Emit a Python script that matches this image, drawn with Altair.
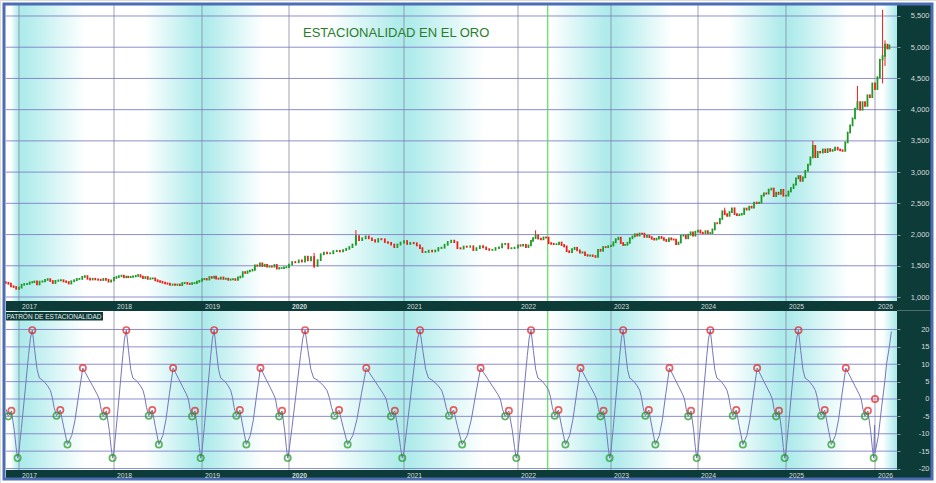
import altair as alt
import pandas as pd

FONT = "Liberation Sans"

# ---------------- data ----------------
title_text = "ESTACIONALIDAD EN EL ORO"
panel_label = "PATRÓN DE ESTACIONALIDAD"

years = [2017, 2018, 2019, 2020, 2021, 2022, 2023, 2024, 2025, 2026]
price_ticks = [1000, 1500, 2000, 2500, 3000, 3500, 4000, 4500, 5000, 5500]
season_ticks = [-20, -15, -10, -5, 0, 5, 10, 15, 20]

# gold closes sampled on the 1st, 11th and 21st of each month, first one 2016-11-11
first_price_date = "2016-11-11"
first_open = 1236
closes_2016 = [1228, 1212, 1172, 1160, 1132]
closes_2017 = [1150, 1196, 1208, 1210, 1234, 1238, 1248, 1202, 1246, 1250, 1274, 1286,
               1256, 1224, 1258, 1266, 1268, 1250, 1240, 1216, 1252, 1268, 1288, 1290,
               1322, 1334, 1292, 1280, 1292, 1282, 1276, 1272, 1290, 1276, 1246, 1266]
closes_2018 = [1306, 1320, 1334, 1342, 1316, 1326, 1318, 1322, 1330, 1338, 1350, 1326,
               1304, 1320, 1290, 1298, 1298, 1268, 1252, 1244, 1230, 1218, 1212, 1196,
               1200, 1194, 1200, 1190, 1222, 1226, 1214, 1208, 1222, 1224, 1244, 1258]
closes_2019 = [1284, 1290, 1280, 1320, 1308, 1326, 1296, 1292, 1312, 1290, 1294, 1276,
               1282, 1286, 1274, 1312, 1326, 1398, 1386, 1410, 1424, 1436, 1506, 1500,
               1538, 1496, 1516, 1486, 1488, 1486, 1512, 1456, 1464, 1464, 1474, 1478]
closes_2020 = [1520, 1560, 1556, 1586, 1568, 1646, 1588, 1640, 1498, 1590, 1684, 1710,
               1700, 1700, 1734, 1740, 1730, 1752, 1772, 1800, 1840, 1976, 1912, 1940,
               1970, 1940, 1910, 1886, 1928, 1924, 1880, 1866, 1840, 1800, 1840, 1872]
closes_2021 = [1896, 1850, 1866, 1860, 1826, 1782, 1720, 1722, 1742, 1730, 1744, 1784,
               1790, 1836, 1880, 1902, 1878, 1782, 1776, 1808, 1804, 1812, 1752, 1782,
               1814, 1794, 1766, 1754, 1756, 1784, 1794, 1848, 1850, 1780, 1782, 1790]
closes_2022 = [1828, 1822, 1836, 1800, 1826, 1900, 1944, 1988, 1936, 1924, 1954, 1950,
               1862, 1852, 1846, 1846, 1872, 1832, 1810, 1734, 1718, 1768, 1788, 1748,
               1710, 1716, 1672, 1662, 1666, 1656, 1642, 1756, 1740, 1800, 1798, 1814]
closes_2023 = [1824, 1876, 1926, 1950, 1864, 1834, 1836, 1868, 1940, 1970, 2004, 1984,
               2016, 2014, 1962, 1978, 1958, 1932, 1920, 1934, 1962, 1944, 1914, 1896,
               1940, 1922, 1920, 1848, 1872, 1982, 1984, 1940, 1998, 2036, 1982, 2046]
closes_2024 = [2064, 2030, 2022, 2054, 2024, 2024, 2082, 2182, 2180, 2250, 2372, 2326,
               2300, 2360, 2420, 2328, 2310, 2320, 2330, 2416, 2400, 2446, 2432, 2512,
               2502, 2512, 2622, 2660, 2656, 2720, 2736, 2616, 2670, 2650, 2716, 2622]
closes_2025 = [2624, 2690, 2744, 2800, 2900, 2936, 2860, 2916, 3020, 3120, 3236, 3420,
               3240, 3324, 3314, 3362, 3320, 3368, 3340, 3354, 3390, 3362, 3350, 3340,
               3476, 3634, 3748, 3860, 4016, 4120, 4000, 4120, 4060, 4230, 4200, 4420]
closes_2026 = [4330, 4520, 4800, 4860, 5040, 4980, 5030]

# visible wicks (date, high, low)
wick_dates = ["2020-03-21", "2020-08-01", "2022-03-11", "2024-04-21", "2025-04-21",
              "2025-10-21", "2026-02-01", "2026-02-11"]
wick_highs = [1704, 2072, 2068, 2430, 3500, 4380, 5600, 5110]
wick_lows = [1460, 1840, 1936, 2326, 3236, 4016, 4420, 4700]

# seasonal pattern (one year): fraction of year, value, marker
pattern_frac = [0.0, 0.025, 0.065, 0.10, 0.12, 0.14, 0.165, 0.19, 0.215, 0.245, 0.27, 0.30,
                0.33, 0.35, 0.37, 0.395, 0.435, 0.47, 0.51, 0.555, 0.59, 0.63, 0.672, 0.70,
                0.73, 0.78, 0.82, 0.845, 0.865, 0.887, 0.92, 0.95, 0.97, 0.985]
pattern_val = [-15, -8.5, 2.6, 12.5, 17.5, 19.8, 14, 8.5, 6.0, 5.5, 4.8, 3.8,
               2.5, 0.5, -2.5, -4.8, -3.2, -8, -13.1, -10.5, -6, 1.5, 8.9, 7.5,
               6, 3.5, 1.5, 0, -3, -5, -3.4, -9, -14, -17]
pattern_mark = ["", "", "", "", "", "max", "", "", "", "", "", "",
                "", "", "", "min", "max", "", "min", "", "", "", "max", "",
                "", "", "", "", "", "min", "max", "", "", "min"]
pattern_years = [2016, 2017, 2018, 2019, 2020, 2021, 2022, 2023, 2024, 2025]

# last stretch of the pattern (2026)
tail_x = [2025.995, 2026.0, 2026.037, 2026.075, 2026.112, 2026.131, 2026.161, 2026.184]
tail_val = [-7.5, -15.5, -10.8, -2.2, 5.5, 10.3, 15, 19.4]
current_x = [2026.0]
current_val = [0]

cursor_x = [2022.32]

# ---------------- colours ----------------
CYAN = "#b0ebeb"
WHITE = "#ffffff"
DARK = "#0d3b38"
GRID_H = "#7a7ac8"
GRID_V = "#7f7f99"
UP = "#1e9a25"
DOWN = "#ec2016"
LBL = "#d5dcdc"

# ---------------- scales ----------------
X_DOMAIN = [2016.863, 2017, 2018, 2019, 2020, 2021, 2022, 2023, 2024, 2025, 2026, 2026.247]
X_RANGE = [6, 19, 114, 202, 289, 404, 518, 611, 698, 786, 875, 897]
xscale = alt.Scale(domain=X_DOMAIN, range=X_RANGE, zero=False, nice=False)
yscale_top = alt.Scale(domain=[936, 5676], range=[301, 5], zero=False, nice=False)
yscale_bot = alt.Scale(domain=[-20.43, 25.32], range=[470, 311], zero=False, nice=False)

bold2020 = {"condition": {"test": "datum.value == 2020", "value": "bold"}, "value": "normal"}
x_axis_kw = dict(values=years, labelExpr="'' + datum.value", labelAlign="left", labelOffset=2.5,
                 labelPadding=2, labelBaseline="top", labelFontSize=6.8, labelColor=LBL,
                 labelFont=FONT, ticks=False, domain=False, grid=False, title=None,
                 labelFlush=False, labelOverlap=False, labelFontWeight=bold2020, zindex=1)
xaxis_top = alt.Axis(orient="bottom", offset=-182, **x_axis_kw)
xaxis_bot = alt.Axis(orient="bottom", offset=-13, **x_axis_kw)
y_axis_kw = dict(orient="right", offset=-39, labelAlign="right", labelPadding=29, tickSize=3,
                 tickColor="#7f9a9a", labelFontSize=7.5, labelColor=LBL, labelFont=FONT,
                 domain=False, grid=False, title=None, labelOverlap=False, labelFlush=False,
                 zindex=1)
yaxis_top = alt.Axis(values=price_ticks, labelExpr="format(datum.value, ',')", **y_axis_kw)
yaxis_bot = alt.Axis(values=season_ticks, labelExpr="'' + datum.value", **y_axis_kw)


def XT(f):
    return alt.X(f, type="quantitative", scale=xscale, axis=xaxis_top)


def XB(f):
    return alt.X(f, type="quantitative", scale=xscale, axis=xaxis_bot)


def YT(f):
    return alt.Y(f, type="quantitative", scale=yscale_top, axis=yaxis_top)


def YB(f):
    return alt.Y(f, type="quantitative", scale=yscale_bot, axis=yaxis_bot)


# ---------------- tables ----------------
def dec_year(ts):
    ts = pd.Timestamp(ts)
    n = 366 if ts.is_leap_year else 365
    return ts.year + (ts.dayofyear - 1) / n


closes = (closes_2016 + closes_2017 + closes_2018 + closes_2019 + closes_2020 + closes_2021
          + closes_2022 + closes_2023 + closes_2024 + closes_2025 + closes_2026)
dates = []
first = pd.Timestamp(first_price_date)
yy, mm = first.year, first.month
while len(dates) < len(closes):
    for dd in (1, 11, 21):
        t = pd.Timestamp(year=yy, month=mm, day=dd)
        if t >= first and len(dates) < len(closes):
            dates.append(t)
    mm += 1
    if mm > 12:
        mm, yy = 1, yy + 1
opens = [first_open] + closes[:-1]
candles = pd.DataFrame({"x": [dec_year(d) for d in dates], "o": opens, "c": closes})
wicks = pd.DataFrame({"x": [dec_year(d) for d in wick_dates], "hi": wick_highs, "lo": wick_lows})

srows = []
for yr in pattern_years:
    for f, v, mk in zip(pattern_frac, pattern_val, pattern_mark):
        if yr + f >= X_DOMAIN[0]:
            srows.append({"x": yr + f, "v": v, "m": mk})
for xv, v in zip(tail_x, tail_val):
    srows.append({"x": xv, "v": v, "m": ""})
season = pd.DataFrame(srows)
current = pd.DataFrame({"x": current_x, "v": current_val})

bands = []
for yr in range(2016, 2027):
    s, e = max(yr, X_DOMAIN[0]), min(yr + 1, X_DOMAIN[-1])
    if e > s:
        bands.append({"s": s, "e": e, "odd": yr % 2})
bands = pd.DataFrame(bands)
odd_b = bands[bands.odd == 1]
even_b = bands[bands.odd == 0]

grad_odd = alt.LinearGradient(gradient="linear", x1=0, x2=1, y1=0, y2=0, stops=[
    alt.GradientStop(color=CYAN, offset=0), alt.GradientStop(color=CYAN, offset=0.06),
    alt.GradientStop(color=WHITE, offset=0.7), alt.GradientStop(color=WHITE, offset=1)])
grad_even = alt.LinearGradient(gradient="linear", x1=0, x2=1, y1=0, y2=0, stops=[
    alt.GradientStop(color=WHITE, offset=0), alt.GradientStop(color=WHITE, offset=0.35),
    alt.GradientStop(color=CYAN, offset=0.94), alt.GradientStop(color=CYAN, offset=1)])

yrs_df = pd.DataFrame({"x": years})
pt_df = pd.DataFrame({"v": price_ticks})
st_df = pd.DataFrame({"v": season_ticks})
cur_df = pd.DataFrame({"x": cursor_x})
one = pd.DataFrame({"t": [title_text]})
lab = pd.DataFrame({"t": [panel_label]})
dummy = pd.DataFrame({"a": [0]})


def panel_bg(X, y0, y1):
    a = alt.Chart(odd_b).mark_rect(fill=grad_odd, strokeWidth=0).encode(
        x=X("s"), x2="e", y=alt.value(y0), y2=alt.value(y1))
    b = alt.Chart(even_b).mark_rect(fill=grad_even, strokeWidth=0).encode(
        x=X("s"), x2="e", y=alt.value(y0), y2=alt.value(y1))
    return [a, b]


# ---------------- top panel ----------------
top_layers = panel_bg(XT, 5, 301) + [
    alt.Chart(pt_df).mark_rule(color=GRID_H, strokeWidth=1, opacity=0.85).encode(
        y=YT("v"), x=alt.value(6), x2=alt.value(897)),
    alt.Chart(yrs_df).mark_rule(color=GRID_V, strokeWidth=1.2, opacity=0.6).encode(
        x=XT("x"), y=alt.value(5), y2=alt.value(301)),
    alt.Chart(cur_df).mark_rule(color="#3ddc3d", strokeWidth=1).encode(
        x=XT("x"), y=alt.value(5), y2=alt.value(303)),
    alt.Chart(wicks).mark_rule(color=DOWN, strokeWidth=1).encode(
        x=XT("x"), y=YT("lo"), y2="hi"),
    alt.Chart(candles).mark_rule(strokeWidth=1.8, strokeCap="square").encode(
        x=XT("x"), y=YT("o"), y2="c",
        color=alt.condition("datum.c >= datum.o", alt.value(UP), alt.value(DOWN))),
    alt.Chart(one).mark_text(align="left", baseline="alphabetic", font=FONT, fontSize=13,
                             color="#2b7d2b").encode(
        x=alt.value(303), y=alt.value(37), text="t:N"),
]
top = alt.layer(*top_layers)

# ---------------- bottom panel ----------------
bot_layers = panel_bg(XB, 311, 470) + [
    alt.Chart(st_df).mark_rule(color=GRID_H, strokeWidth=1, opacity=0.85).encode(
        y=YB("v"), x=alt.value(6), x2=alt.value(897)),
    alt.Chart(yrs_df).mark_rule(color=GRID_V, strokeWidth=1.2, opacity=0.6).encode(
        x=XB("x"), y=alt.value(311), y2=alt.value(470)),
    alt.Chart(cur_df).mark_rule(color="#3ddc3d", strokeWidth=1).encode(
        x=XB("x"), y=alt.value(311), y2=alt.value(472)),
    alt.Chart(season).mark_line(color="#7676b8", strokeWidth=1).encode(
        x=XB("x"), y=YB("v"), order="x:Q"),
    alt.Chart(season).transform_filter("datum.m == 'max'").mark_point(
        shape="circle", filled=False, size=40, strokeWidth=1.7, color="#e41e1e").encode(
        x=XB("x"), y=YB("v")),
    alt.Chart(season).transform_filter("datum.m == 'min'").mark_point(
        shape="circle", filled=False, size=40, strokeWidth=1.7, color="#1f9a1f").encode(
        x=XB("x"), y=YB("v")),
    alt.Chart(current).mark_point(
        shape="circle", filled=False, size=40, strokeWidth=1.7, color="#e41e1e").encode(
        x=XB("x"), y=YB("v")),
]
bottom = alt.layer(*bot_layers)

# ---------------- frame / bands ----------------
overlay = [
    alt.Chart(dummy).mark_rect(color=DARK).encode(
        x=alt.value(6), x2=alt.value(897), y=alt.value(301), y2=alt.value(311)),
    alt.Chart(dummy).mark_rect(color=DARK).encode(
        x=alt.value(6), x2=alt.value(897), y=alt.value(470), y2=alt.value(478)),
    alt.Chart(dummy).mark_rect(color=DARK).encode(
        x=alt.value(897), x2=alt.value(931), y=alt.value(4), y2=alt.value(478)),
    alt.Chart(dummy).mark_rule(color="#4d6e6e", strokeWidth=1).encode(
        x=alt.value(897), x2=alt.value(931), y=alt.value(310.5)),
    alt.Chart(dummy).mark_rect(color=DARK).encode(
        x=alt.value(6), x2=alt.value(103), y=alt.value(312), y2=alt.value(320.5)),
    alt.Chart(lab).mark_text(align="left", baseline="middle", font=FONT, fontSize=6.5,
                             color="#e6eded").encode(
        x=alt.value(6.5), y=alt.value(316.5), text="t:N"),
    alt.Chart(dummy).mark_rect(fill=None, stroke="#4a6db5", strokeWidth=3).encode(
        x=alt.value(4), x2=alt.value(932), y=alt.value(4), y2=alt.value(479)),
]

chart = alt.layer(top, bottom, *overlay).resolve_scale(
    x="independent", y="independent"
).properties(
    width=936, height=483, autosize=alt.AutoSizeParams(type="none"), padding=0,
    background="white"
).configure_view(stroke=None).configure(font=FONT)

chart.save("out.html", embed_options={"renderer": "svg", "actions": False})
